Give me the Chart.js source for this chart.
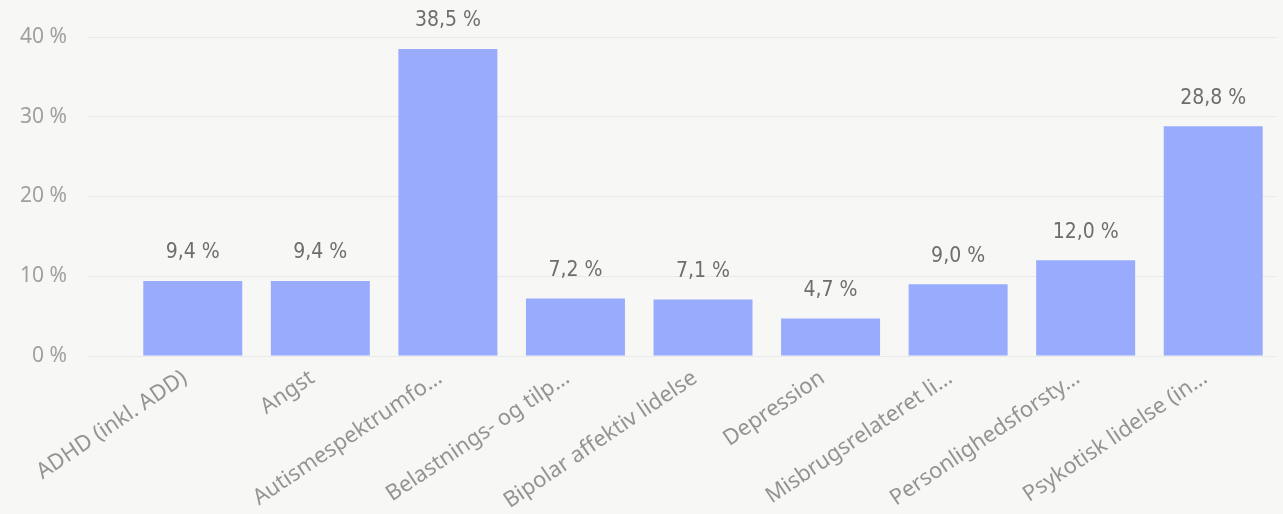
<!DOCTYPE html>
<html>
<head>
<meta charset="utf-8">
<script src="https://cdn.jsdelivr.net/npm/chart.js"></script>
<style>
  html, body { margin: 0; padding: 0; background: #f7f7f5; }
  #wrap { width: 1283px; height: 514px; position: relative; }
</style>
</head>
<body>
<div id="wrap"><canvas id="myCanvas"></canvas></div>
<script>
var categories = [
    'ADHD (inkl. ADD)',
    'Angst',
    'Autismespektrumfo\u2026',
    'Belastnings- og tilp\u2026',
    'Bipolar affektiv lidelse',
    'Depression',
    'Misbrugsrelateret li\u2026',
    'Personlighedsforsty\u2026',
    'Psykotisk lidelse (in\u2026'
];
var andel = [9.4, 9.4, 38.5, 7.2, 7.1, 4.7, 9.0, 12.0, 28.8];
var yTicks = [0, 10, 20, 30, 40];

function pct(v, dec){
    return v.toFixed(dec).replace('.', ',') + ' %';
}

// value labels above each bar
var barLabels = {
    id: 'barLabels',
    afterDatasetsDraw: function(chart){
        var ctx = chart.ctx;
        var meta = chart.getDatasetMeta(0);
        ctx.save();
        ctx.font = '21px "DejaVu Sans Condensed", "Liberation Sans Narrow", sans-serif';
        ctx.fillStyle = '#6e6e6e';
        ctx.textAlign = 'center';
        ctx.textBaseline = 'middle';
        meta.data.forEach(function(bar, i){
            ctx.fillText(pct(andel[i], 1), bar.x, bar.y - 28);
        });
        ctx.restore();
    }
};

var ctx = document.getElementById('myCanvas').getContext('2d');
var myChart = new Chart(ctx, {
    type: 'bar',
    data: {
        labels: categories,
        datasets: [{
            data: andel,
            backgroundColor: '#99abfc',
            borderWidth: 0,
            categoryPercentage: 1,
            barPercentage: 0.776
        }]
    },
    options: {
        responsive: true,
        maintainAspectRatio: false,
        animation: false,
        layout: { padding: { top: 37, right: 6, bottom: 0, left: 0 } },
        plugins: {
            legend: { display: false },
            tooltip: { enabled: false }
        },
        scales: {
            x: {
                grid: { display: false },
                border: { display: false },
                afterFit: function(axis){ axis.height = 158; },
                ticks: {
                    color: '#949494',
                    font: { family: '"Noto Sans", sans-serif', size: 22 },
                    minRotation: 34,
                    maxRotation: 34,
                    autoSkip: false,
                    labelOffset: -8,
                    padding: 1
                }
            },
            y: {
                min: 0,
                max: 40,
                afterFit: function(axis){ axis.width = 129; },
                afterBuildTicks: function(axis){
                    axis.ticks = yTicks.map(function(v){ return { value: v }; });
                },
                border: { display: false },
                grid: {
                    color: '#e9e9e7',
                    lineWidth: 1,
                    tickLength: 41
                },
                ticks: {
                    color: '#a0a0a0',
                    padding: 21,
                    font: { family: '"Noto Sans", sans-serif', size: 21 },
                    callback: function(v){ return pct(v, 0); }
                }
            }
        }
    },
    plugins: [barLabels]
});
</script>
</body>
</html>
